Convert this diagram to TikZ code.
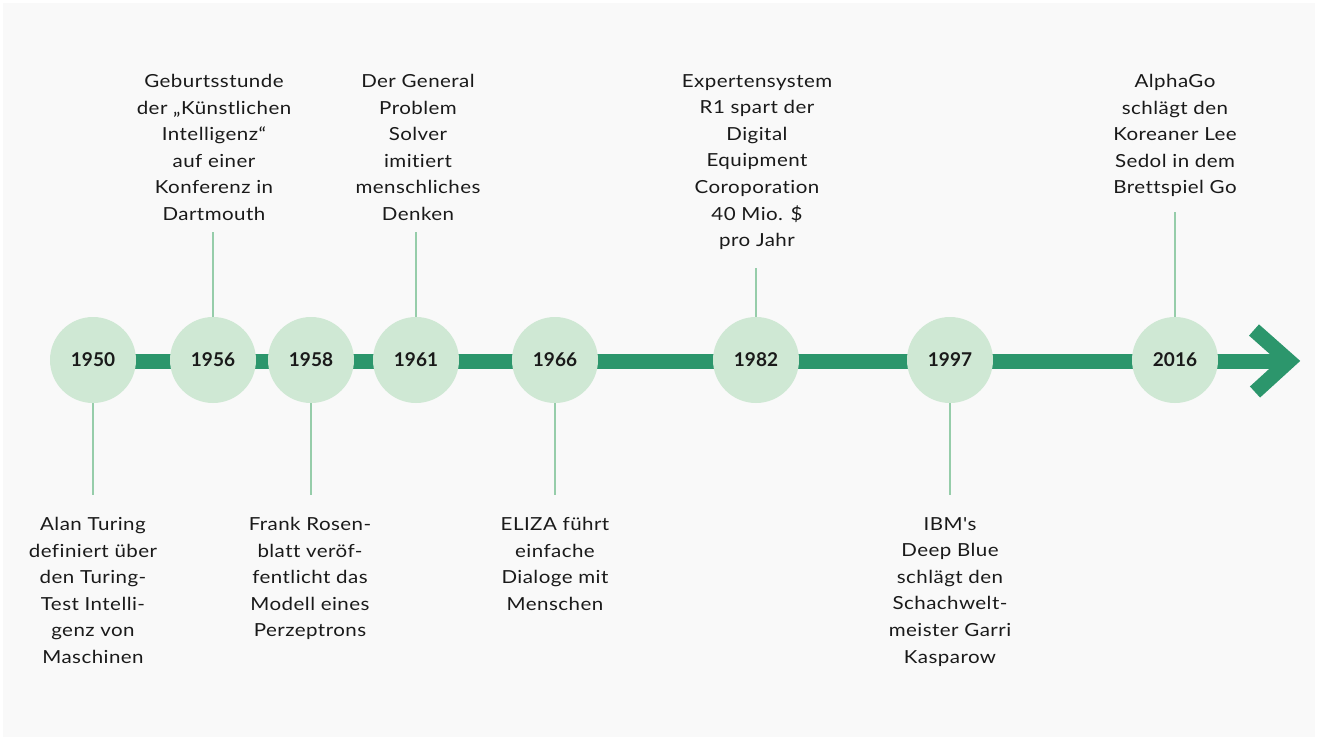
\documentclass[tikz,border=0pt]{standalone}
\usepackage{fontspec}
\setmainfont{Lato}
\newfontfamily\descfont[FakeStretch=1.14,LetterSpace=2.5,Ligatures={NoCommon}]{Lato}
\definecolor{bg}{RGB}{249,249,249}
\definecolor{bargreen}{RGB}{44,150,108}
\definecolor{circfill}{RGB}{207,232,212}
\definecolor{conn}{RGB}{150,205,170}
\definecolor{txt}{RGB}{26,26,26}
\begin{document}
\begin{tikzpicture}[x=1pt,y=-1pt,
  year/.style={circle,fill=circfill,minimum size=86pt,inner sep=0pt,text=txt,font=\fontsize{19}{22}\selectfont\bfseries},
  desc/.style={align=center,inner sep=0pt,text=txt,font=\descfont\fontsize{18}{26.6}\selectfont},
  topdesc/.style={desc,anchor=north},
  botdesc/.style={desc,anchor=north},
  link/.style={draw=conn,line width=2pt},
  bar/.style={draw=bargreen,line width=15pt}]
\useasboundingbox (0,0) rectangle (1318,740);
\fill[white] (0,0) rectangle (1318,740);
\fill[bg] (3,3) rectangle (1315,737);
% main bar and chevron
\coordinate (barstart) at (93,361);
\coordinate (barend) at (1282,361);
\draw[bar] (barstart) -- (barend);
\coordinate (chA) at (1254,330);
\coordinate (chTip) at (1289,361);
\coordinate (chB) at (1255,392);
\draw[bar,line join=miter,miter limit=10] (chA) -- (chTip) -- (chB);
% year circles
\node[year] (y1950) at (93,360) {1950};
\node[year] (y1956) at (213,360) {1956};
\node[year] (y1958) at (311,360) {1958};
\node[year] (y1961) at (416,360) {1961};
\node[year] (y1966) at (555,360) {1966};
\node[year] (y1982) at (756,360) {1982};
\node[year] (y1997) at (950,360) {1997};
\node[year] (y2016) at (1175,360) {2016};
% connector ends
\coordinate (e1950) at (93,495);
\coordinate (e1956) at (213,232);
\coordinate (e1958) at (311,495);
\coordinate (e1961) at (416,232);
\coordinate (e1966) at (555,495);
\coordinate (e1982) at (756,268);
\coordinate (e1997) at (950,495);
\coordinate (e2016) at (1175,212);
\foreach \y in {1950,1956,1958,1961,1966,1982,1997,2016}
  \draw[link] (y\y) -- (e\y);
% descriptions
\node[topdesc] (t1956) at (214,74) {Geburtsstunde\\der „Künstlichen\\Intelligenz“\\auf einer\\Konferenz in\\Dartmouth};
\node[topdesc] (t1961) at (418,74) {Der General\\Problem\\Solver\\imitiert\\menschliches\\Denken};
\node[topdesc] (t1982) at (757,74) {Expertensystem\\R1 spart der\\Digital\\Equipment\\Coroporation\\40 Mio. \$\\pro Jahr};
\node[topdesc] (t2016) at (1175,74) {AlphaGo\\schlägt den\\Koreaner Lee\\Sedol in dem\\Brettspiel Go};
\node[botdesc] (b1950) at (93,517) {Alan Turing\\definiert über\\den Turing-\\Test Intelli-\\genz von\\Maschinen};
\node[botdesc] (b1958) at (310,517) {Frank Rosen-\\blatt veröf-\\fentlicht das\\Modell eines\\Perzeptrons};
\node[botdesc] (b1966) at (555,517) {ELIZA führt\\einfache\\Dialoge mit\\Menschen};
\node[botdesc] (b1997) at (950,517) {IBM's\\Deep Blue\\schlägt den\\Schachwelt-\\meister Garri\\Kasparow};
\end{tikzpicture}
\end{document}
